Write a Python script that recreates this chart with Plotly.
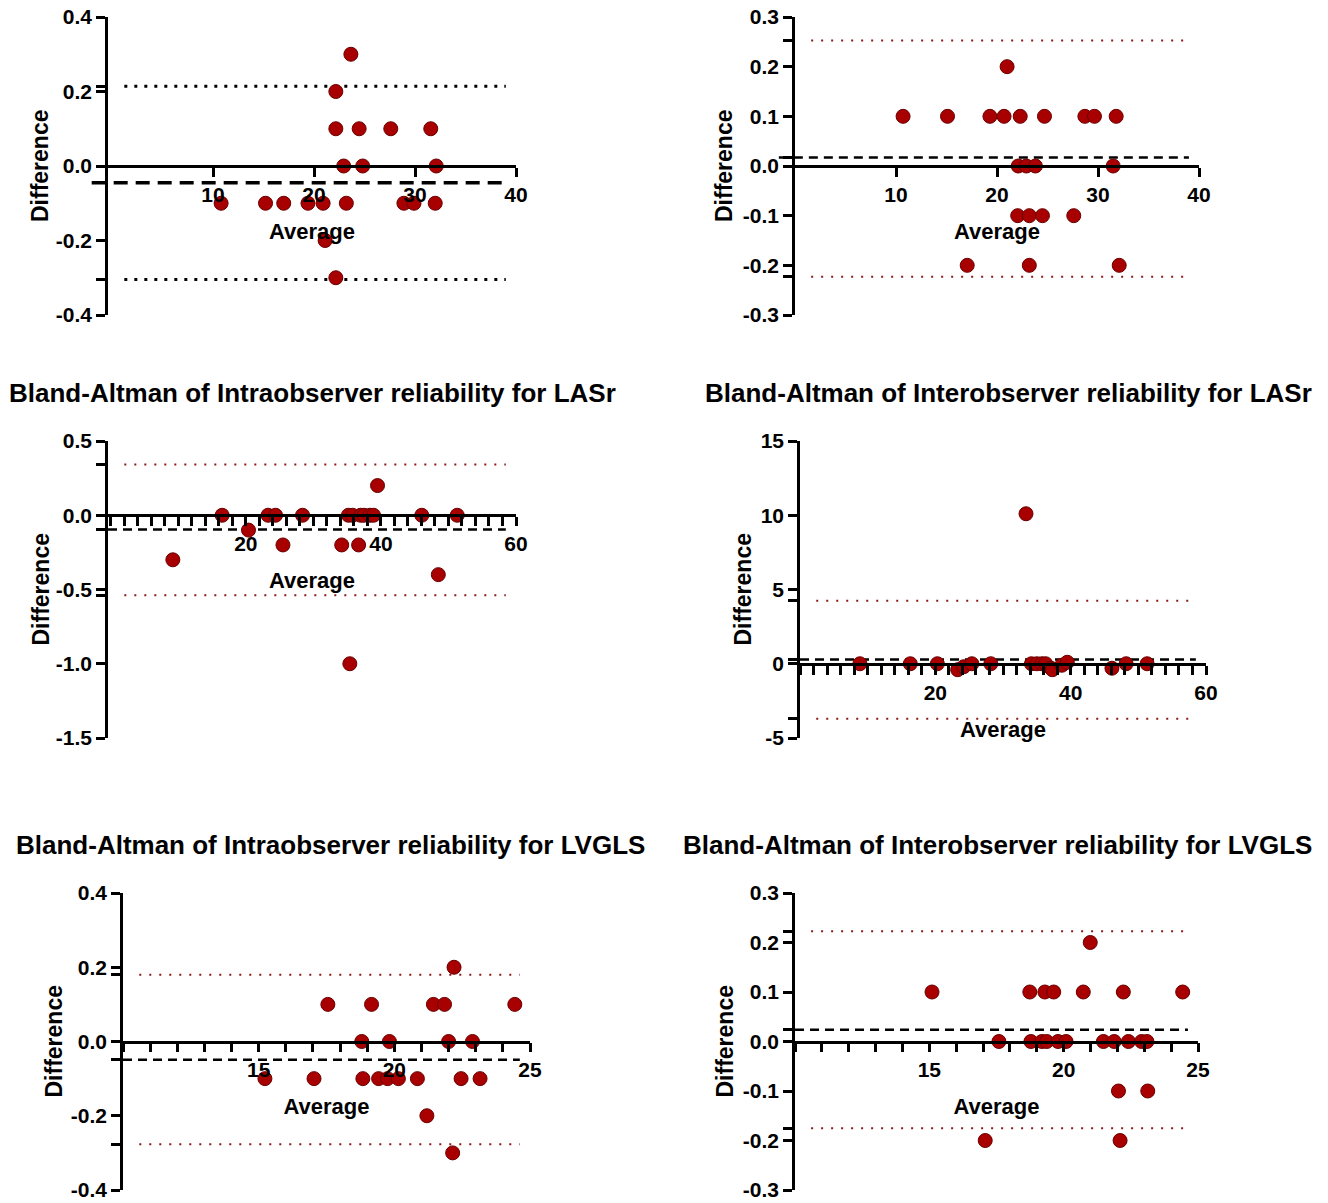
import plotly.graph_objects as go

W, H = 1328, 1203          # reference picture size
OFF = 8                    # page body margin added by the browser
FW, FH = W - OFF, H - OFF  # figure size
FONT = "Liberation Sans, Arial, sans-serif"

# ---------------- data ----------------
# Panel 1 (top-left)
p1_avg = [23.65, 22.16, 22.16, 24.47, 27.6, 31.56, 22.94, 24.82, 32.1,
          10.8, 15.2, 17.0, 19.4, 20.9, 23.2, 28.9, 29.9, 32.0, 21.1, 22.16]
p1_diff = [0.3, 0.2, 0.1, 0.1, 0.1, 0.1, 0.0, 0.0, 0.0,
           -0.1, -0.1, -0.1, -0.1, -0.1, -0.1, -0.1, -0.1, -0.1, -0.2, -0.3]
p1_mean, p1_upper, p1_lower = -0.045, 0.214, -0.305

# Panel 2 (top-right)
p2_avg = [21.0, 10.7, 15.1, 19.3, 20.7, 22.3, 24.7, 28.7, 29.65, 31.8,
          22.1, 22.9, 23.8, 31.5, 22.05, 23.2, 24.5, 27.6, 17.05, 23.2, 32.1]
p2_diff = [0.2, 0.1, 0.1, 0.1, 0.1, 0.1, 0.1, 0.1, 0.1, 0.1,
           0.0, 0.0, 0.0, 0.0, -0.1, -0.1, -0.1, -0.1, -0.2, -0.2, -0.2]
p2_mean, p2_upper, p2_lower = 0.017, 0.2525, -0.223

# Panel 3 (Intraobserver LASr)
p3_avg = [39.5, 16.5, 23.3, 24.4, 28.4, 35.2, 35.8, 37.0, 37.5, 38.4, 38.9, 46.05, 51.3,
          20.4, 25.5, 34.2, 36.7, 9.2, 48.5, 35.4]
p3_diff = [0.2, 0.0, 0.0, 0.0, 0.0, 0.0, 0.0, 0.0, 0.0, 0.0, 0.0, 0.0, 0.0,
           -0.1, -0.2, -0.2, -0.2, -0.3, -0.4, -1.0]
p3_mean, p3_upper, p3_lower = -0.096, 0.341, -0.539

# Panel 4 (Interobserver LASr)
p4_avg = [8.85, 16.3, 20.3, 23.3, 24.2, 25.4, 28.2, 33.4, 34.2, 35.0, 35.75, 36.3,
          37.1, 37.3, 38.7, 39.5, 46.1, 48.2, 51.3]
p4_diff = [0.0, 0.0, 0.0, -0.4, -0.2, 0.0, 0.0, 10.1, 0.0, 0.0, 0.0, 0.0,
           -0.3, -0.4, -0.1, 0.1, -0.3, 0.0, 0.0]
p4_mean, p4_upper, p4_lower = 0.29, 4.24, -3.7

# Panel 5 (Intraobserver LVGLS)
p5_avg = [22.2, 17.55, 19.16, 21.44, 21.85, 24.44, 18.8, 19.82, 22.0, 22.88,
          15.23, 17.04, 18.84, 19.42, 19.75, 20.15, 20.85, 22.46, 23.16, 21.2, 22.15]
p5_diff = [0.2, 0.1, 0.1, 0.1, 0.1, 0.1, 0.0, 0.0, 0.0, 0.0,
           -0.1, -0.1, -0.1, -0.1, -0.1, -0.1, -0.1, -0.1, -0.1, -0.2, -0.3]
p5_mean, p5_upper, p5_lower = -0.049, 0.18, -0.277

# Panel 6 (Interobserver LVGLS)
p6_avg = [20.99, 15.1, 18.74, 19.3, 19.63, 20.73, 22.22, 24.43,
          17.59, 18.78, 19.19, 19.37, 19.79, 20.09, 21.48, 21.88, 22.41, 22.9, 23.1,
          22.04, 23.13, 17.08, 22.1]
p6_diff = [0.2, 0.1, 0.1, 0.1, 0.1, 0.1, 0.1, 0.1,
           0.0, 0.0, 0.0, 0.0, 0.0, 0.0, 0.0, 0.0, 0.0, 0.0, 0.0,
           -0.1, -0.1, -0.2, -0.2]
p6_mean, p6_upper, p6_lower = 0.0236, 0.2225, -0.175

titles = ["", "",
          "Bland-Altman of Intraobserver reliability for LASr",
          "Bland-Altman of Interobserver reliability for LASr",
          "Bland-Altman of Intraobserver reliability for LVGLS",
          "Bland-Altman of Interobserver reliability for LVGLS"]

y_ticks = [[-0.4, -0.2, 0.0, 0.2, 0.4],
           [-0.3, -0.2, -0.1, 0.0, 0.1, 0.2, 0.3],
           [-1.5, -1.0, -0.5, 0.0, 0.5],
           [-5, 0, 5, 10, 15],
           [-0.4, -0.2, 0.0, 0.2, 0.4],
           [-0.3, -0.2, -0.1, 0.0, 0.1, 0.2, 0.3]]
y_fmt = [".1f", ".1f", ".1f", "d", ".1f", ".1f"]
x_ticks = [[10, 20, 30, 40], [10, 20, 30, 40], [20, 40, 60], [20, 40, 60],
           [15, 20, 25], [15, 20, 25]]


def fx(px):
    return (px - OFF) / FW


def fy(py):
    return 1 - (py - OFF) / FH


# ---------------- layout geometry (reference pixels) ----------------
RED_DOT = "#8B1A1A"
panels = [
    dict(avg=p1_avg, diff=p1_diff, mean=p1_mean, up=p1_upper, lo=p1_lower,
         px=(108, 516), py=(17, 315), xr=[-0.4, 40], yr=[-0.4, 0.4], minor=None,
         loa_color="black", loa_w=3, loa_dash="3px,7px", mean_w=3.5, mean_dash="14px,8px",
         ytitle_x=40, title_y=None),
    dict(avg=p2_avg, diff=p2_diff, mean=p2_mean, up=p2_upper, lo=p2_lower,
         px=(795, 1199), py=(17, 315), xr=[0, 40], yr=[-0.3, 0.3], minor=None,
         loa_color=RED_DOT, loa_w=2, loa_dash="2px,8px", mean_w=2.5, mean_dash="9px,6px",
         ytitle_x=724, title_y=None),
    dict(avg=p3_avg, diff=p3_diff, mean=p3_mean, up=p3_upper, lo=p3_lower,
         px=(108, 516), py=(441, 738), xr=[-0.4, 60], yr=[-1.5, 0.5], minor=2,
         loa_color=RED_DOT, loa_w=2, loa_dash="2px,8px", mean_w=2.5, mean_dash="9px,6px",
         ytitle_x=40, title_y=393),
    dict(avg=p4_avg, diff=p4_diff, mean=p4_mean, up=p4_upper, lo=p4_lower,
         px=(800, 1206), py=(441, 738), xr=[0, 60], yr=[-5, 15], minor=2,
         loa_color=RED_DOT, loa_w=2, loa_dash="2px,8px", mean_w=2.5, mean_dash="9px,6px",
         ytitle_x=742, title_y=393),
    dict(avg=p5_avg, diff=p5_diff, mean=p5_mean, up=p5_upper, lo=p5_lower,
         px=(123, 530), py=(893, 1190), xr=[10, 25], yr=[-0.4, 0.4], minor=1,
         loa_color=RED_DOT, loa_w=2, loa_dash="2px,8px", mean_w=2.5, mean_dash="9px,6px",
         ytitle_x=53, title_y=845),
    dict(avg=p6_avg, diff=p6_diff, mean=p6_mean, up=p6_upper, lo=p6_lower,
         px=(795, 1198), py=(893, 1190), xr=[10, 25], yr=[-0.3, 0.3], minor=1,
         loa_color=RED_DOT, loa_w=2, loa_dash="2px,8px", mean_w=2.5, mean_dash="9px,6px",
         ytitle_x=724, title_y=845),
]
title_x = [None, None, 312, 1008, 330, 997]

fig = go.Figure()
layout = dict(width=FW, height=FH, margin=dict(l=0, r=0, t=0, b=0, autoexpand=False),
              template="none",
              paper_bgcolor="white", plot_bgcolor="white", showlegend=False,
              font=dict(family=FONT, color="black"))
shapes = []
annotations = []

for i, p in enumerate(panels):
    n = i + 1
    xs = "x" if n == 1 else f"x{n}"
    ys = "y" if n == 1 else f"y{n}"
    xk = "xaxis" if n == 1 else f"xaxis{n}"
    yk = "yaxis" if n == 1 else f"yaxis{n}"
    x0p, x1p = p["px"]
    y0p, y1p = p["py"]
    ymin, ymax = p["yr"]
    zero_px = y0p + (ymax - 0) / (ymax - ymin) * (y1p - y0p)

    # y ticks: majors + ticks at mean / limits of agreement (unlabelled)
    fmt = y_fmt[i]
    tv = list(y_ticks[i]) + [p["up"], p["lo"], p["mean"]]
    tt = [format(v, fmt) if fmt != "d" else str(int(v)) for v in y_ticks[i]] + ["", "", ""]

    xa = dict(domain=[fx(x0p), fx(x1p)], range=p["xr"], anchor="free",
              position=fy(zero_px), showgrid=False, zeroline=False, automargin=False,
              showline=True, linecolor="black", linewidth=2.5,
              ticks="outside", ticklen=9, tickwidth=2.5, tickcolor="black",
              tickvals=x_ticks[i], ticklabeloverflow="allow",
              tickfont=dict(family=FONT, size=21, weight="bold", color="black"),
              title=dict(text="Average", standoff=18,
                         font=dict(family=FONT, size=22, weight="bold", color="black")))
    if p["minor"]:
        xa["minor"] = dict(dtick=p["minor"], tick0=0, ticks="outside", ticklen=9,
                           tickwidth=2.5, tickcolor="black", showgrid=False)
    ya = dict(domain=[fy(y1p), fy(y0p)], range=p["yr"], anchor=xs,
              showgrid=False, zeroline=False, automargin=False, showline=True,
              linecolor="black", linewidth=2.5, ticks="outside", ticklen=9, tickwidth=2.5,
              tickcolor="black", tickvals=tv, ticktext=tt, ticklabeloverflow="allow",
              tickfont=dict(family=FONT, size=21, weight="bold", color="black"))
    layout[xk] = xa
    layout[yk] = ya

    fig.add_trace(go.Scatter(
        x=p["avg"], y=p["diff"], mode="markers", xaxis=xs, yaxis=ys,
        marker=dict(size=14, color="#A80000", line=dict(color="#6A0000", width=1)),
        cliponaxis=False))

    # mean and limits of agreement
    shapes.append(dict(type="line", xref=f"{xs} domain", yref=ys,
                       x0=-0.04 if n in (1, 2) else 0.0,
                       x1=0.975, y0=p["mean"], y1=p["mean"],
                       line=dict(color="black", width=p["mean_w"], dash=p["mean_dash"]),
                       layer="below"))
    for v in (p["up"], p["lo"]):
        shapes.append(dict(type="line", xref=f"{xs} domain", yref=ys, x0=0.04, x1=0.975,
                           y0=v, y1=v,
                           line=dict(color=p["loa_color"], width=p["loa_w"], dash=p["loa_dash"]),
                           layer="below"))

    # y axis title
    annotations.append(dict(text="Difference", x=fx(p["ytitle_x"]), y=fy((y0p + y1p) / 2),
                            xref="paper", yref="paper", textangle=-90, showarrow=False,
                            xanchor="center", yanchor="middle",
                            font=dict(family=FONT, size=23, weight="bold", color="black")))
    if titles[i]:
        annotations.append(dict(text=titles[i], x=fx(title_x[i]), y=fy(p["title_y"]),
                                xref="paper", yref="paper", showarrow=False,
                                xanchor="center", yanchor="middle",
                                font=dict(family=FONT, size=26, weight="bold", color="black")))

layout["shapes"] = shapes
layout["annotations"] = annotations
fig.update_layout(**layout)
fig.write_html("out.html")
